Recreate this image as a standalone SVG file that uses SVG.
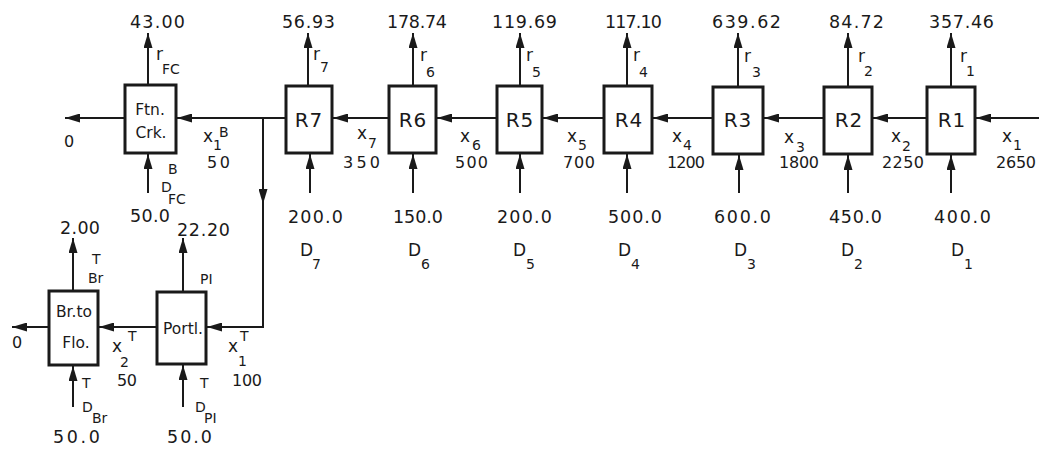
<svg xmlns="http://www.w3.org/2000/svg" width="1039" height="449" viewBox="0 0 1039 449">
  <style>
    text { font-family: "DejaVu Sans", "Liberation Sans", sans-serif; fill: #1a1a1a; }
    .v { font-size: 17.5px; }
    .n { font-size: 16px; }
    .x { font-size: 17px; }
    .s { font-size: 17px; }
    .ss { font-size: 14px; }
    .d { font-size: 17px; }
    .bx { font-size: 20px; text-anchor: middle; letter-spacing: 1px; }
    .bs { font-size: 15.5px; text-anchor: middle; }
    .box { fill: #fff; stroke: #1a1a1a; stroke-width: 3; }
    .ln { fill: none; stroke: #1a1a1a; stroke-width: 2; marker-end: url(#ah); }
  </style>
  <defs>
    <marker id="ah" viewBox="0 0 15 9" refX="15" refY="4.5" markerWidth="15" markerHeight="9" markerUnits="userSpaceOnUse" orient="auto">
      <path d="M0,0 L15,4.5 L0,9 z" fill="#1a1a1a"/>
    </marker>
  </defs>
  <rect width="1039" height="449" fill="#fff"/>

  <!-- flows between units -->
  <g id="connectors">
    <!-- main feed line -->
    <path class="ln" d="M1039,118 H976"/>
    <path class="ln" d="M927,118 H873"/>
    <path class="ln" d="M824,118 H764"/>
    <path class="ln" d="M713,118 H653"/>
    <path class="ln" d="M604,118 H543"/>
    <path class="ln" d="M497,118 H437"/>
    <path class="ln" d="M389,118 H333"/>
    <path class="ln" d="M286,118 H177"/>
    <path class="ln" d="M125,118 H65"/>
    <!-- branch to lower train -->
    <path class="ln" d="M263,118 V204"/>
    <path class="ln" d="M263,200 V327 H207"/>
    <path class="ln" d="M157,327 H99"/>
    <path class="ln" d="M49,327 H12"/>
    <!-- releases (up) -->
    <path class="ln" d="M148,86 V33"/>
    <path class="ln" d="M308,86 V33"/>
    <path class="ln" d="M413,86 V33"/>
    <path class="ln" d="M520,86 V33"/>
    <path class="ln" d="M627,86 V33"/>
    <path class="ln" d="M738,86 V33"/>
    <path class="ln" d="M848,86 V33"/>
    <path class="ln" d="M951,86 V33"/>
    <path class="ln" d="M73,291 V238"/>
    <path class="ln" d="M183,292 V238"/>
    <!-- demands (up into boxes) -->
    <path class="ln" d="M148,193 V154"/>
    <path class="ln" d="M310,193 V154"/>
    <path class="ln" d="M413,193 V154"/>
    <path class="ln" d="M520,193 V154"/>
    <path class="ln" d="M627,193 V154"/>
    <path class="ln" d="M739,193 V155"/>
    <path class="ln" d="M848,193 V155"/>
    <path class="ln" d="M951,193 V155"/>
    <path class="ln" d="M73,407 V366"/>
    <path class="ln" d="M183,407 V365"/>
  </g>

  <!-- unit R1 -->
  <g id="R1">
    <rect class="box" x="927" y="87" width="48" height="67"/>
    <text class="bx" x="952" y="127">R1</text>
    <text class="v" x="929" y="28" textLength="65">357.46</text>
    <text class="s" x="960" y="62">r</text><text class="ss" x="966" y="76">1</text>
    <text class="x" x="1002" y="142">x</text><text class="ss" x="1013" y="150">1</text>
    <text class="n" x="996" y="168" textLength="40">2650</text>
    <text class="v" x="934" y="223" textLength="57">400.0</text>
    <text class="d" x="951" y="256">D</text><text class="ss" x="964" y="269">1</text>
  </g>

  <!-- unit R2 -->
  <g id="R2">
    <rect class="box" x="824" y="87" width="48" height="67"/>
    <text class="bx" x="849" y="127">R2</text>
    <text class="v" x="829" y="28" textLength="55">84.72</text>
    <text class="s" x="858" y="62">r</text><text class="ss" x="864" y="76">2</text>
    <text class="x" x="891" y="142">x</text><text class="ss" x="902" y="151">2</text>
    <text class="n" x="882" y="168" textLength="42">2250</text>
    <text class="v" x="829" y="223" textLength="53">450.0</text>
    <text class="d" x="841" y="256">D</text><text class="ss" x="854" y="269">2</text>
  </g>

  <!-- unit R3 -->
  <g id="R3">
    <rect class="box" x="713" y="87" width="50" height="67"/>
    <text class="bx" x="738" y="127">R3</text>
    <text class="v" x="712" y="28" textLength="69">639.62</text>
    <text class="s" x="744" y="62">r</text><text class="ss" x="752" y="77">3</text>
    <text class="x" x="784" y="143">x</text><text class="ss" x="796" y="152">3</text>
    <text class="n" x="779" y="168" textLength="40">1800</text>
    <text class="v" x="714" y="223" textLength="57">600.0</text>
    <text class="d" x="734" y="256">D</text><text class="ss" x="747" y="269">3</text>
  </g>

  <!-- unit R4 -->
  <g id="R4">
    <rect class="box" x="604" y="86" width="48" height="67"/>
    <text class="bx" x="629" y="127">R4</text>
    <text class="v" x="605" y="28" textLength="57">117.10</text>
    <text class="s" x="633" y="61">r</text><text class="ss" x="639" y="77">4</text>
    <text class="x" x="672" y="142">x</text><text class="ss" x="683" y="150">4</text>
    <text class="n" x="667" y="168" textLength="38">1200</text>
    <text class="v" x="608" y="223" textLength="54">500.0</text>
    <text class="d" x="618" y="256">D</text><text class="ss" x="631" y="269">4</text>
  </g>

  <!-- unit R5 -->
  <g id="R5">
    <rect class="box" x="497" y="86" width="45" height="67"/>
    <text class="bx" x="520" y="127">R5</text>
    <text class="v" x="492" y="28" textLength="65">119.69</text>
    <text class="s" x="526" y="61">r</text><text class="ss" x="532" y="77">5</text>
    <text class="x" x="567" y="142">x</text><text class="ss" x="578" y="150">5</text>
    <text class="n" x="563" y="168" textLength="32">700</text>
    <text class="v" x="497" y="223" textLength="55">200.0</text>
    <text class="d" x="513" y="256">D</text><text class="ss" x="526" y="269">5</text>
  </g>

  <!-- unit R6 -->
  <g id="R6">
    <rect class="box" x="389" y="86" width="47" height="67"/>
    <text class="bx" x="413" y="127">R6</text>
    <text class="v" x="387" y="28" textLength="60">178.74</text>
    <text class="s" x="420" y="61">r</text><text class="ss" x="426" y="77">6</text>
    <text class="x" x="460" y="142">x</text><text class="ss" x="472" y="150">6</text>
    <text class="n" x="455" y="168" textLength="33">500</text>
    <text class="v" x="393" y="223" textLength="50">150.0</text>
    <text class="d" x="408" y="256">D</text><text class="ss" x="421" y="269">6</text>
  </g>

  <!-- unit R7 -->
  <g id="R7">
    <rect class="box" x="286" y="86" width="46" height="67"/>
    <text class="bx" x="309" y="127">R7</text>
    <text class="v" x="282" y="28" textLength="53">56.93</text>
    <text class="s" x="313" y="60">r</text><text class="ss" x="320" y="72">7</text>
    <text class="x" x="357" y="139">x</text><text class="ss" x="368" y="148">7</text>
    <text class="n" x="343" y="168" textLength="37">350</text>
    <text class="v" x="288" y="223" textLength="55">200.0</text>
    <text class="d" x="300" y="256">D</text><text class="ss" x="312" y="269">7</text>
  </g>

  <!-- Ftn. Crk. unit -->
  <g id="FtnCrk">
    <rect class="box" x="125" y="85" width="51" height="68"/>
    <text class="bs" x="150" y="115">Ftn.</text>
    <text class="bs" x="151" y="138">Crk.</text>
    <text class="v" x="130" y="28" textLength="55">43.00</text>
    <text class="s" x="156" y="60">r</text><text class="ss" x="162" y="74">FC</text>
    <text class="n" x="64" y="147">0</text>
    <text class="x" x="203" y="142">x</text><text class="ss" x="213" y="150">1</text><text class="ss" x="219" y="137">B</text>
    <text class="n" x="207" y="168" textLength="23">50</text>
    <text class="ss" x="168" y="174">B</text>
    <text class="ss" x="161" y="192">D</text><text class="ss" x="168" y="204">FC</text>
    <text class="v" x="130" y="222" textLength="40">50.0</text>
  </g>

  <!-- Portl. unit -->
  <g id="Portl">
    <rect class="box" x="157" y="292" width="49" height="72"/>
    <text class="bs" x="183" y="334">Portl.</text>
    <text class="v" x="177" y="236" textLength="53">22.20</text>
    <text class="ss" x="200" y="284">PI</text>
    <text class="x" x="228" y="352">x</text><text class="ss" x="238" y="366">1</text><text class="ss" x="240" y="341">T</text>
    <text class="n" x="232" y="386" textLength="30">100</text>
    <text class="ss" x="200" y="388">T</text>
    <text class="ss" x="195" y="412">D</text><text class="ss" x="204" y="423">PI</text>
    <text class="v" x="167" y="443" textLength="45">50.0</text>
  </g>

  <!-- Br. to Flo. unit -->
  <g id="BrToFlo">
    <rect class="box" x="49" y="291" width="49" height="74"/>
    <text class="bs" x="74" y="317">Br.to</text>
    <text class="bs" x="76" y="348">Flo.</text>
    <text class="v" x="60" y="234" textLength="40">2.00</text>
    <text class="ss" x="92" y="264">T</text>
    <text class="ss" x="88" y="283">Br</text>
    <text class="n" x="12" y="348">0</text>
    <text class="x" x="112" y="352">x</text><text class="ss" x="120" y="367">2</text><text class="ss" x="128" y="341">T</text>
    <text class="n" x="117" y="386" textLength="20">50</text>
    <text class="ss" x="82" y="388">T</text>
    <text class="ss" x="82" y="412">D</text><text class="ss" x="92" y="423">Br</text>
    <text class="v" x="53" y="443" textLength="47">50.0</text>
  </g>
</svg>
